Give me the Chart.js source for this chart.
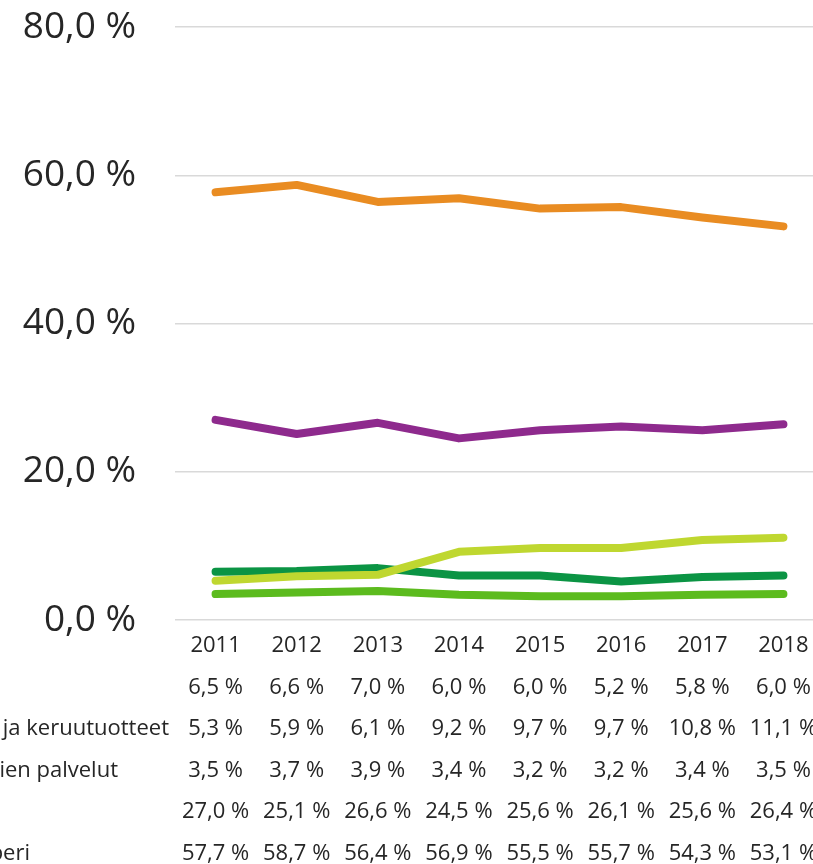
<!DOCTYPE html>
<html lang="fi">
<head>
    <meta charset="UTF-8">
    <title>Osuudet 2011–2018</title>
    <script src="https://cdn.jsdelivr.net/npm/chart.js"></script>
    <style>
        html, body {
            margin: 0;
            padding: 0;
            background: #fff;
            overflow: hidden;
        }
        #chart {
            display: block;
        }
    </style>
</head>
<body>
    <canvas id="chart" width="824" height="864"></canvas>

    <script>
        // Data (shares in %)
        const years = ['2011', '2012', '2013', '2014', '2015', '2016', '2017', '2018'];
        const seriesNames = ['Muut', 'Lelut ja keruutuotteet', 'Pelien palvelut', 'Lehdet', 'Paperi'];
        const darkGreen = [6.5, 6.6, 7.0, 6.0, 6.0, 5.2, 5.8, 6.0];
        const yellowGreen = [5.3, 5.9, 6.1, 9.2, 9.7, 9.7, 10.8, 11.1];
        const green = [3.5, 3.7, 3.9, 3.4, 3.2, 3.2, 3.4, 3.5];
        const purple = [27.0, 25.1, 26.6, 24.5, 25.6, 26.1, 25.6, 26.4];
        const orange = [57.7, 58.7, 56.4, 56.9, 55.5, 55.7, 54.3, 53.1];
        const yTicks = [0, 20, 40, 60, 80];

        const seriesValues = [darkGreen, yellowGreen, green, purple, orange];
        const seriesColors = ['#0b9444', '#bfd730', '#5cbb1e', '#8e2a8d', '#e98c22'];

        // row label right edges (labels are cut off on the left)
        const rowLabelEnds = [0, 169, 118, -5, 30];

        const fmt = v => v.toFixed(1).replace('.', ',') + ' %';
        const textColor = '#262626';
        const fontFamily = "'Open Sans', sans-serif";

        // Data table under the plot, drawn with the x scale positions
        const dataTable = {
            id: 'dataTable',
            afterDraw(chart) {
                const ctx = chart.ctx;
                const x = chart.scales.x;
                const headerY = 646;
                const rowY = [688, 729, 771, 812, 854];
                ctx.save();
                ctx.fillStyle = textColor;
                ctx.font = '22px ' + fontFamily;
                ctx.textBaseline = 'middle';
                ctx.textAlign = 'center';
                years.forEach((yr, i) => {
                    ctx.fillText(yr, x.getPixelForValue(i), headerY);
                });
                seriesValues.forEach((vals, r) => {
                    ctx.textAlign = 'center';
                    vals.forEach((v, i) => {
                        ctx.fillText(fmt(v), x.getPixelForValue(i), rowY[r]);
                    });
                    ctx.textAlign = 'right';
                    ctx.fillText(seriesNames[r], rowLabelEnds[r], rowY[r]);
                });
                ctx.restore();
            }
        };

        new Chart(document.getElementById('chart'), {
            type: 'line',
            data: {
                labels: years,
                datasets: seriesValues.map((vals, i) => ({
                    label: seriesNames[i],
                    data: vals,
                    borderColor: seriesColors[i],
                    backgroundColor: seriesColors[i],
                    borderWidth: 8,
                    borderCapStyle: 'round',
                    borderJoinStyle: 'round',
                    pointRadius: 0,
                    tension: 0,
                    order: seriesValues.length - i
                }))
            },
            options: {
                responsive: false,
                animation: false,
                layout: {
                    padding: { top: 27, bottom: 244, left: 0, right: 0 }
                },
                plugins: {
                    legend: { display: false },
                    tooltip: { enabled: false }
                },
                scales: {
                    x: {
                        display: false,
                        offset: true
                    },
                    y: {
                        min: 0,
                        max: 80,
                        afterBuildTicks(scale) {
                            scale.ticks = yTicks.map(v => ({ value: v }));
                        },
                        afterFit(scale) {
                            scale.width = 175;
                            scale.paddingTop = 0;
                            scale.paddingBottom = 0;
                        },
                        border: { display: false },
                        grid: {
                            color: '#d9d9d9',
                            lineWidth: 1.5,
                            drawTicks: false
                        },
                        ticks: {
                            padding: 39,
                            color: textColor,
                            font: { family: "'Open Sans', sans-serif", size: 37 },
                            callback: v => fmt(v)
                        }
                    }
                }
            },
            plugins: [dataTable]
        });
    </script>
</body>
</html>
